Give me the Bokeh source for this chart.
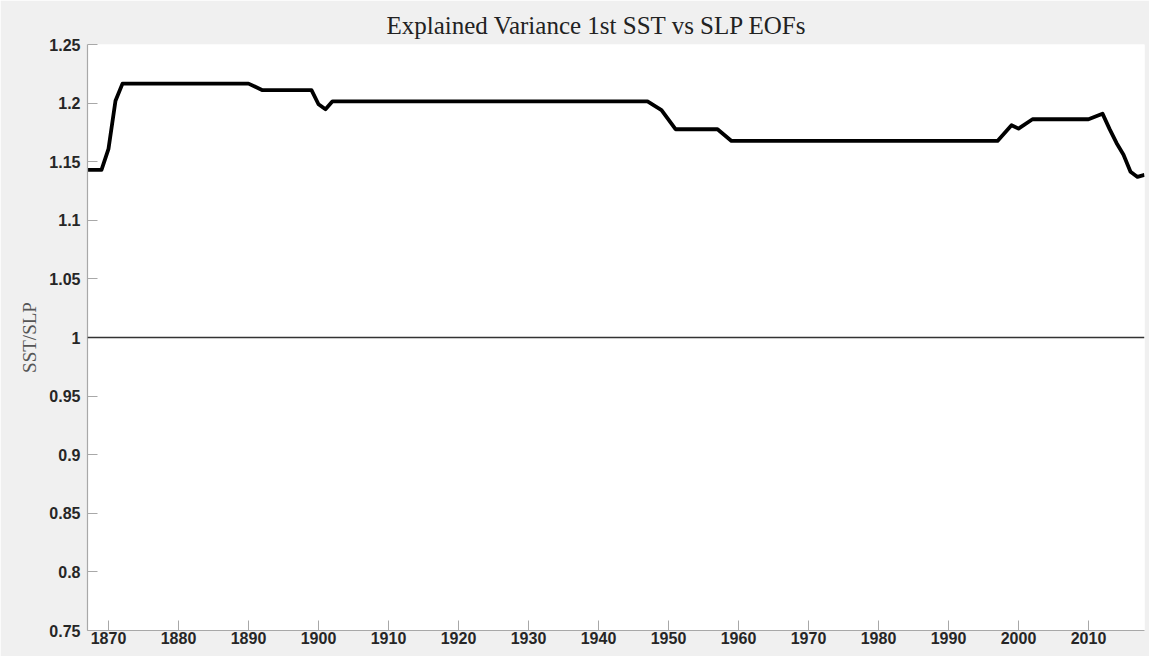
from bokeh.plotting import figure
from bokeh.models import Range1d, FixedTicker, Span
from bokeh.embed import file_html
from bokeh.resources import INLINE

# Polyline vertices (year, SST/SLP explained-variance ratio)
years = [1867, 1869, 1870, 1871, 1872, 1890, 1892, 1899, 1900, 1901, 1902,
         1947, 1949, 1951, 1957, 1959, 1997, 1999, 2000, 2002, 2010, 2012,
         2013, 2014, 2015, 2016, 2017, 2018]
ratio = [1.143, 1.143, 1.161, 1.202, 1.2166, 1.2166, 1.211, 1.211, 1.199, 1.1947, 1.2015,
         1.2015, 1.1941, 1.1777, 1.1777, 1.1677, 1.1677, 1.1811, 1.1782, 1.1862, 1.1862, 1.191,
         1.178, 1.166, 1.156, 1.1415, 1.137, 1.1387]

reference_level = 1.0

x_ticks = [1870, 1880, 1890, 1900, 1910, 1920, 1930, 1940, 1950, 1960, 1970, 1980, 1990, 2000, 2010]
y_ticks = [0.75, 0.8, 0.85, 0.9, 0.95, 1.0, 1.05, 1.1, 1.15, 1.2, 1.25]
y_tick_labels = ["0.75", "0.8", "0.85", "0.9", "0.95", "1", "1.05", "1.1", "1.15", "1.2", "1.25"]

title_text = "Explained Variance 1st SST vs SLP EOFs"
y_label = "SST/SLP"

p = figure(
    frame_width=1057, frame_height=586,
    x_range=Range1d(1867, 2018), y_range=Range1d(0.75, 1.25),
    output_backend="svg", toolbar_location=None,
    min_border_left=87, min_border_right=5, min_border_top=44, min_border_bottom=26,
)
p.border_fill_color = "#f0f0f0"
p.background_fill_color = "white"
p.outline_line_color = None
p.grid.visible = False

p.title.text = title_text
p.title.align = "left"
p.title.offset = 299
p.title.text_font = "Liberation Serif"
p.title.text_font_size = "25px"
p.title.text_font_style = "normal"
p.title.text_color = "#222222"
p.title.standoff = 12

for ax in (p.xaxis[0], p.yaxis[0]):
    ax.axis_line_color = "#a8a8a8"
    ax.axis_line_width = 1.2
    ax.major_tick_line_color = "#a8a8a8"
    ax.major_tick_in = 10
    ax.major_tick_out = 0
    ax.minor_tick_line_color = None
    ax.major_label_text_font = "Liberation Sans"
    ax.major_label_text_font_style = "bold"
    ax.major_label_text_font_size = "16px"
    ax.major_label_text_color = "#262626"

p.xaxis[0].ticker = FixedTicker(ticks=x_ticks)
p.xaxis[0].major_label_standoff = 1

p.yaxis[0].ticker = FixedTicker(ticks=y_ticks)
p.yaxis[0].major_label_overrides = {t: s for t, s in zip(y_ticks, y_tick_labels)}
p.yaxis[0].major_label_standoff = 7
p.yaxis[0].axis_label = y_label
p.yaxis[0].axis_label_text_font = "Liberation Serif"
p.yaxis[0].axis_label_text_font_style = "normal"
p.yaxis[0].axis_label_text_font_size = "19px"
p.yaxis[0].axis_label_text_color = "#555555"
p.yaxis[0].axis_label_standoff = 6

p.add_layout(Span(location=reference_level, dimension="width",
                  line_color="#333333", line_width=1.5))

p.line(years, ratio, line_color="black", line_width=3.8, line_join="round")

open("out.html", "w").write(file_html(p, INLINE))
